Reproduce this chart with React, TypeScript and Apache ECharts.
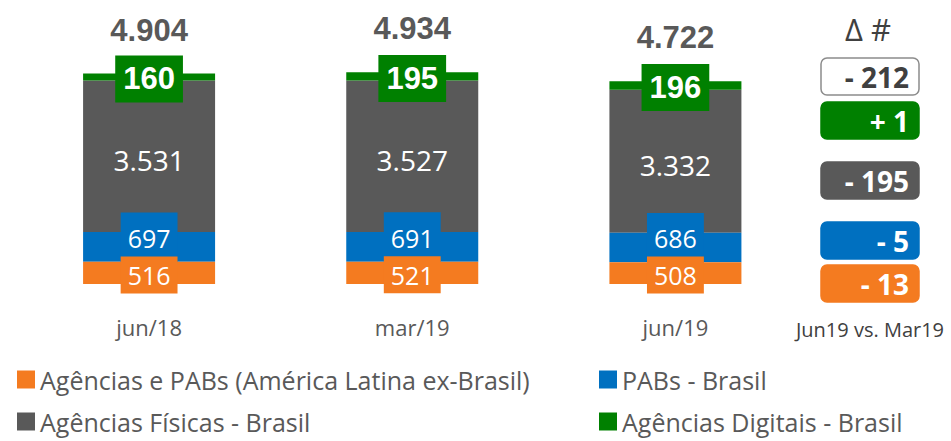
import React, { useEffect, useRef } from "react";
import * as echarts from "echarts";

const categories = ["jun/18", "mar/19", "jun/19"];
const latamValues = [516, 521, 508];
const pabValues = [697, 691, 686];
const fisicasValues = [3531, 3527, 3332];
const digitaisValues = [160, 195, 196];
const seriesNames = [
  "Agências e PABs (América Latina ex-Brasil)",
  "PABs - Brasil",
  "Agências Físicas - Brasil",
  "Agências Digitais - Brasil",
];
const deltaTitle = "Δ #";
const deltaCaption = "Jun19 vs. Mar19";

const ORANGE = "#F47B20";
const BLUE = "#0070C0";
const GRAY = "#595959";
const GREEN = "#008000";
const TEXT = "#595959";
const DARK = "#404040";

const fmt = (v: number) => String(v).replace(/\B(?=(\d{3})+(?!\d))/g, ".");
const fmtDelta = (v: number) => (v >= 0 ? "+ " : "- ") + fmt(Math.abs(v));

export default function App() {
  const ref = useRef<HTMLDivElement>(null);
  useEffect(() => {
    if (!ref.current) return;
    const chart = echarts.init(ref.current, null, { renderer: "svg" });
    const totals = categories.map(
      (_, i) => latamValues[i] + pabValues[i] + fisicasValues[i] + digitaisValues[i]
    );
    const last = categories.length - 1;
    const prev = last - 1;
    const d = (arr: number[]) => arr[last] - arr[prev];
    const deltas = [
      { v: totals[last] - totals[prev], fill: "#ffffff", stroke: "#8c8c8c", color: DARK },
      { v: d(digitaisValues), fill: GREEN, stroke: GREEN, color: "#ffffff" },
      { v: d(fisicasValues), fill: GRAY, stroke: GRAY, color: "#ffffff" },
      { v: d(pabValues), fill: BLUE, stroke: BLUE, color: "#ffffff" },
      { v: d(latamValues), fill: ORANGE, stroke: ORANGE, color: "#ffffff" },
    ];
    const boxTops = [58, 102, 162, 222, 265];
    const graphics: any[] = [
      {
        type: "text",
        x: 868,
        y: 29,
        style: {
          text: deltaTitle,
          font: "31px 'Open Sans'",
          fill: DARK,
          align: "center",
          verticalAlign: "middle",
        },
      },
      {
        type: "text",
        x: 870,
        y: 329,
        style: {
          text: deltaCaption,
          font: "20px 'Open Sans'",
          fill: DARK,
          align: "center",
          verticalAlign: "middle",
        },
      },
    ];
    deltas.forEach((b, i) => {
      graphics.push({
        type: "rect",
        shape: { x: 821, y: boxTops[i], width: 98, height: 37, r: 6 },
        style: { fill: b.fill, stroke: b.stroke, lineWidth: 1.5 },
      });
      graphics.push({
        type: "text",
        x: 909,
        y: boxTops[i] + 19,
        style: {
          text: fmtDelta(b.v),
          font: "bold 28px 'Open Sans'",
          fill: b.color,
          align: "right",
          verticalAlign: "middle",
        },
      });
    });

    const legendBase = {
      orient: "horizontal",
      padding: 0,
      itemWidth: 18,
      itemHeight: 18,
      itemGap: 10,
      icon: "rect",
      textStyle: { color: TEXT, fontSize: 25, lineHeight: 25, fontFamily: "'Open Sans'" },
      selectedMode: false,
    };
    const legendPos = [
      { left: 17, top: 367 },
      { left: 599, top: 367 },
      { left: 17, top: 409 },
      { left: 599, top: 409 },
    ];

    const barW = 132;
    chart.setOption({
      animation: false,
      grid: { left: 17.5, right: 144, top: 69.4, bottom: 157, containLabel: false },
      xAxis: {
        type: "category",
        data: categories,
        axisLine: { show: false },
        axisTick: { show: false },
        axisLabel: {
          color: TEXT,
          fontSize: 22,
          fontFamily: "'Open Sans'",
          margin: 32,
        },
      },
      yAxis: { type: "value", min: 0, max: 5000, show: false, splitLine: { show: false } },
      legend: [0, 1, 2, 3].map((i) => ({
        ...legendBase,
        ...legendPos[i],
        data: [seriesNames[i]],
      })),
      series: [
        {
          name: seriesNames[0],
          type: "bar",
          stack: "total",
          barWidth: barW,
          barGap: "-100%",
          z: 6,
          data: latamValues,
          itemStyle: { color: ORANGE },
          label: {
            show: true,
            position: "inside",
            formatter: (p: any) => fmt(p.value),
            color: "#fff",
            fontSize: 25,
            fontFamily: "'Open Sans'",
            lineHeight: 25,
            backgroundColor: ORANGE,
            padding: [6, 7, 6, 7],
            offset: [0, 2],
          },
        },
        {
          name: seriesNames[1],
          type: "bar",
          stack: "total",
          barWidth: barW,
          z: 5,
          data: pabValues,
          itemStyle: { color: BLUE },
          label: {
            show: true,
            position: "inside",
            formatter: (p: any) => fmt(p.value),
            color: "#fff",
            fontSize: 25,
            fontFamily: "'Open Sans'",
            lineHeight: 25,
            backgroundColor: BLUE,
            padding: [13, 7, 13, 7],
            offset: [0, -9],
          },
        },
        {
          name: seriesNames[2],
          type: "bar",
          stack: "total",
          barWidth: barW,
          z: 3,
          data: fisicasValues,
          itemStyle: { color: GRAY },
          label: {
            show: true,
            position: "inside",
            formatter: (p: any) => fmt(p.value),
            color: "#fff",
            fontSize: 28,
            fontFamily: "'Open Sans'",
            offset: [0, 4],
          },
        },
        {
          name: seriesNames[3],
          type: "bar",
          stack: "total",
          barWidth: barW,
          z: 4,
          data: digitaisValues,
          itemStyle: { color: GREEN },
          label: {
            show: true,
            position: "inside",
            formatter: (p: any) => fmt(p.value),
            color: "#fff",
            fontSize: 31,
            fontWeight: "bold",
            fontFamily: "'Liberation Sans'",
            lineHeight: 31,
            backgroundColor: GREEN,
            padding: [8, 8, 8, 8],
            offset: [0, 2],
          },
        },
        {
          name: "Total",
          type: "bar",
          barWidth: barW,
          z: 1,
          data: totals,
          itemStyle: { color: "rgba(0,0,0,0)" },
          silent: true,
          label: {
            show: true,
            position: "top",
            distance: 28,
            formatter: (p: any) => fmt(p.value),
            color: TEXT,
            fontSize: 31,
            fontWeight: "bold",
            fontFamily: "'Liberation Sans'",
          },
        },
      ],
      graphic: graphics,
    });
    return () => chart.dispose();
  }, []);
  return (
    <div
      ref={ref}
      style={{ position: "fixed", left: 0, top: 0, width: 951, height: 441, background: "#fff" }}
    />
  );
}
